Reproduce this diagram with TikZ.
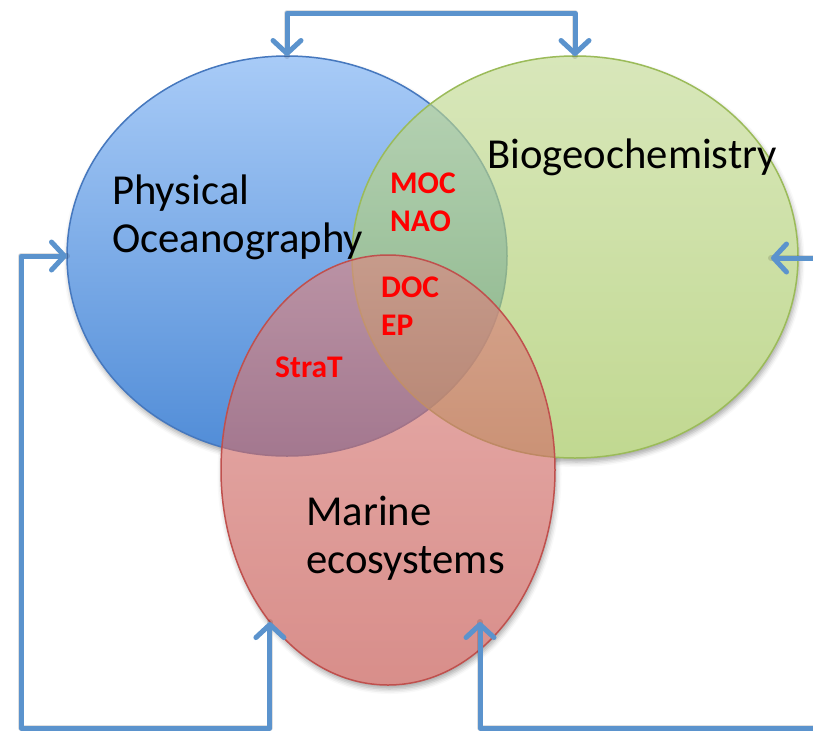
\documentclass[tikz,border=0pt]{standalone}
\usepackage{fontspec}
\setmainfont{Carlito}
\usetikzlibrary{arrows.meta,shapes.geometric,shadows.blur}

\definecolor{physTop}{RGB}{168,203,247}
\definecolor{physBot}{RGB}{80,140,215}
\definecolor{physLine}{RGB}{70,120,190}
\definecolor{bioTop}{RGB}{196,219,150}
\definecolor{bioBot}{RGB}{160,196,86}
\definecolor{bioLine}{RGB}{155,187,89}
\definecolor{marTop}{RGB}{220,134,130}
\definecolor{marBot}{RGB}{196,82,76}
\definecolor{marLine}{RGB}{192,80,77}
\definecolor{linkBlue}{RGB}{91,147,205}

\tikzset{
  disc/.style={ellipse, inner sep=0pt, outer sep=0pt, line width=1.5pt},
  fieldlabel/.style={anchor=base west, inner sep=0pt, font=\fontsize{42.7}{48}\selectfont},
  keylabel/.style={anchor=base west, inner sep=0pt, text=red, font=\bfseries\fontsize{31.5}{38}\selectfont},
  barb/.tip={Straight Barb[length=13pt,width=28pt,round]},
  conn/.style={draw=linkBlue, line width=5pt, line cap=round, line join=round, barb-barb},
  connshade/.style={draw=black, draw opacity=0.12, line width=6pt, line cap=round, line join=round},
  discshade/.style={blur shadow={shadow xshift=1.5pt, shadow yshift=-4pt, shadow blur radius=5pt, shadow opacity=35}},
}

\begin{document}
\begin{tikzpicture}[x=1pt, y=-1pt]
\useasboundingbox (0,0) rectangle (813,734);

% soft drop shadows of the three discs, hidden inside their union
\path[discshade] (287,256) ellipse [x radius=220pt, y radius=200pt];
\path[discshade] (575,257) ellipse [x radius=223pt, y radius=201pt];
\path[discshade] (388,470) ellipse [x radius=167pt, y radius=215pt];
\fill[white] (287,256) ellipse [x radius=220pt, y radius=200pt]
             (575,257) ellipse [x radius=223pt, y radius=201pt]
             (388,470) ellipse [x radius=167pt, y radius=215pt];

% the three fields
\node[disc, minimum width=440pt, minimum height=400pt,
      top color=physTop, bottom color=physBot, draw=physLine] (phys) at (287,256) {};
\node[disc, minimum width=446pt, minimum height=402pt,
      top color=bioTop, bottom color=bioBot, fill opacity=0.65,
      draw=bioLine, draw opacity=1] (bio) at (575,257) {};
\node[disc, minimum width=334pt, minimum height=430pt,
      top color=marTop, bottom color=marBot, fill opacity=0.65,
      draw=marLine, draw opacity=1] (mar) at (388,470) {};

% field names
\node[fieldlabel] (physA) at (112,204) {Physical};
\node[fieldlabel] (physB) at (112,252) {Oceanography};
\node[fieldlabel] (bioA) at (487,168) {Biogeochemistry};
\node[fieldlabel] (marA) at (306,525) {Marine};
\node[fieldlabel] (marB) at (306,573) {ecosystems};

% shared topics in the overlaps
\node[keylabel] (moc) at (390,193) {MOC};
\node[keylabel] (nao) at (390,231) {NAO};
\node[keylabel] (doc) at (381,297) {DOC};
\node[keylabel] (ep) at (381,335) {EP};
\node[keylabel] (strat) at (275,377) {StraT};

% feedback links
\coordinate (topY) at (0,13);
\coordinate (leftCorner) at (21,728);
\coordinate (rightCorner) at (830,728);
\coordinate (bioTip) at (771,258);
\coordinate (marTip) at (480,622);

\begin{scope}[shift={(1.5,3)}]
  \draw[connshade] (phys.north) |- (topY -| bio.north) -- (bio.north);
  \draw[connshade] (mar.south west) |- (leftCorner) |- (phys.west);
  \draw[connshade] (bioTip) -| (rightCorner) -| (marTip);
\end{scope}

\draw[conn] (phys.north) |- (topY -| bio.north) -- (bio.north);
\draw[conn] (mar.south west) |- (leftCorner) |- (phys.west);
\draw[conn] (bioTip) -| (rightCorner) -| (marTip);
\end{tikzpicture}
\end{document}
